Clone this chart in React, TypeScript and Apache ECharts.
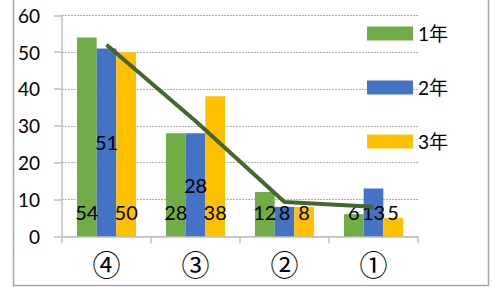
import React, { useEffect, useRef } from "react";
import * as echarts from "echarts";

const categories = ["④", "③", "②", "①"];
const year1 = [54, 28, 12, 6];
const year2 = [51, 28, 8, 13];
const year3 = [50, 38, 8, 5];
const average = [52, 31.3, 9.3, 8];
const seriesNames = ["1年", "2年", "3年"];

const FONT = "Lato, 'Noto Sans CJK JP', sans-serif";

export default function App() {
  const ref = useRef<HTMLDivElement>(null);
  useEffect(() => {
    if (!ref.current) return;
    const chart = echarts.init(ref.current, null, { renderer: "svg" });
    const baseLabel = {
      show: true,
      color: "#000",
      fontSize: 20,
      fontFamily: FONT,
      position: "insideBottom" as const,
      distance: 14,
    };
    chart.setOption({
      animation: false,
      textStyle: { fontFamily: FONT },
      graphic: [
        {
          type: "rect",
          shape: { x: 13.5, y: -10, width: 475, height: 295.5 },
          style: { fill: "none", stroke: "#a6a6a6", lineWidth: 1.5 },
          silent: true,
        },
      ],
      grid: { left: 62, right: 78, top: 15.3, bottom: 50.7 },
      legend: {
        data: seriesNames,
        orient: "vertical",
        left: 367,
        top: 24,
        padding: 0,
        itemWidth: 46,
        itemHeight: 14,
        itemGap: 35,
        icon: "rect",
        textStyle: { fontSize: 19, color: "#000", fontFamily: FONT, padding: [0, 0, 0, 0] },
      },
      xAxis: {
        type: "category",
        data: categories,
        axisLine: { lineStyle: { color: "#bfbfbf", width: 1.5 } },
        axisTick: { show: true, length: 7, alignWithLabel: false, lineStyle: { color: "#bfbfbf", width: 1.5 } },
        axisLabel: { fontSize: 28, color: "#000", margin: 14, fontFamily: "'Noto Sans CJK JP', sans-serif" },
      },
      yAxis: {
        type: "value",
        min: 0,
        max: 60,
        interval: 10,
        axisLine: { show: true, lineStyle: { color: "#bfbfbf", width: 1.5 } },
        axisTick: { show: true, length: 8, lineStyle: { color: "#bfbfbf", width: 1.5 } },
        axisLabel: { fontSize: 19, color: "#000", margin: 22 },
        splitLine: { lineStyle: { color: "#b0b0b0", type: [2, 1], width: 1 } },
      },
      series: [
        {
          name: seriesNames[0],
          type: "bar",
          data: year1,
          barGap: "0%",
          barCategoryGap: "33.7%",
          itemStyle: { color: "#70ad47" },
          label: baseLabel,
        },
        {
          name: seriesNames[1],
          type: "bar",
          data: year2.map((v) =>
            v < 10 ? { value: v, label: { position: "insideBottom", distance: 14 } } : v
          ),
          itemStyle: { color: "#4472c4" },
          label: { ...baseLabel, position: "inside" },
        },
        {
          name: seriesNames[2],
          type: "bar",
          data: year3,
          itemStyle: { color: "#ffc000" },
          label: baseLabel,
        },
        {
          name: "平均",
          type: "line",
          data: average,
          symbol: "none",
          lineStyle: { color: "#43682b", width: 4 },
          z: 5,
        },
      ],
    });
    return () => chart.dispose();
  }, []);
  return <div ref={ref} style={{ width: 496, height: 287, position: "absolute", left: 0, top: 0 }} />;
}
